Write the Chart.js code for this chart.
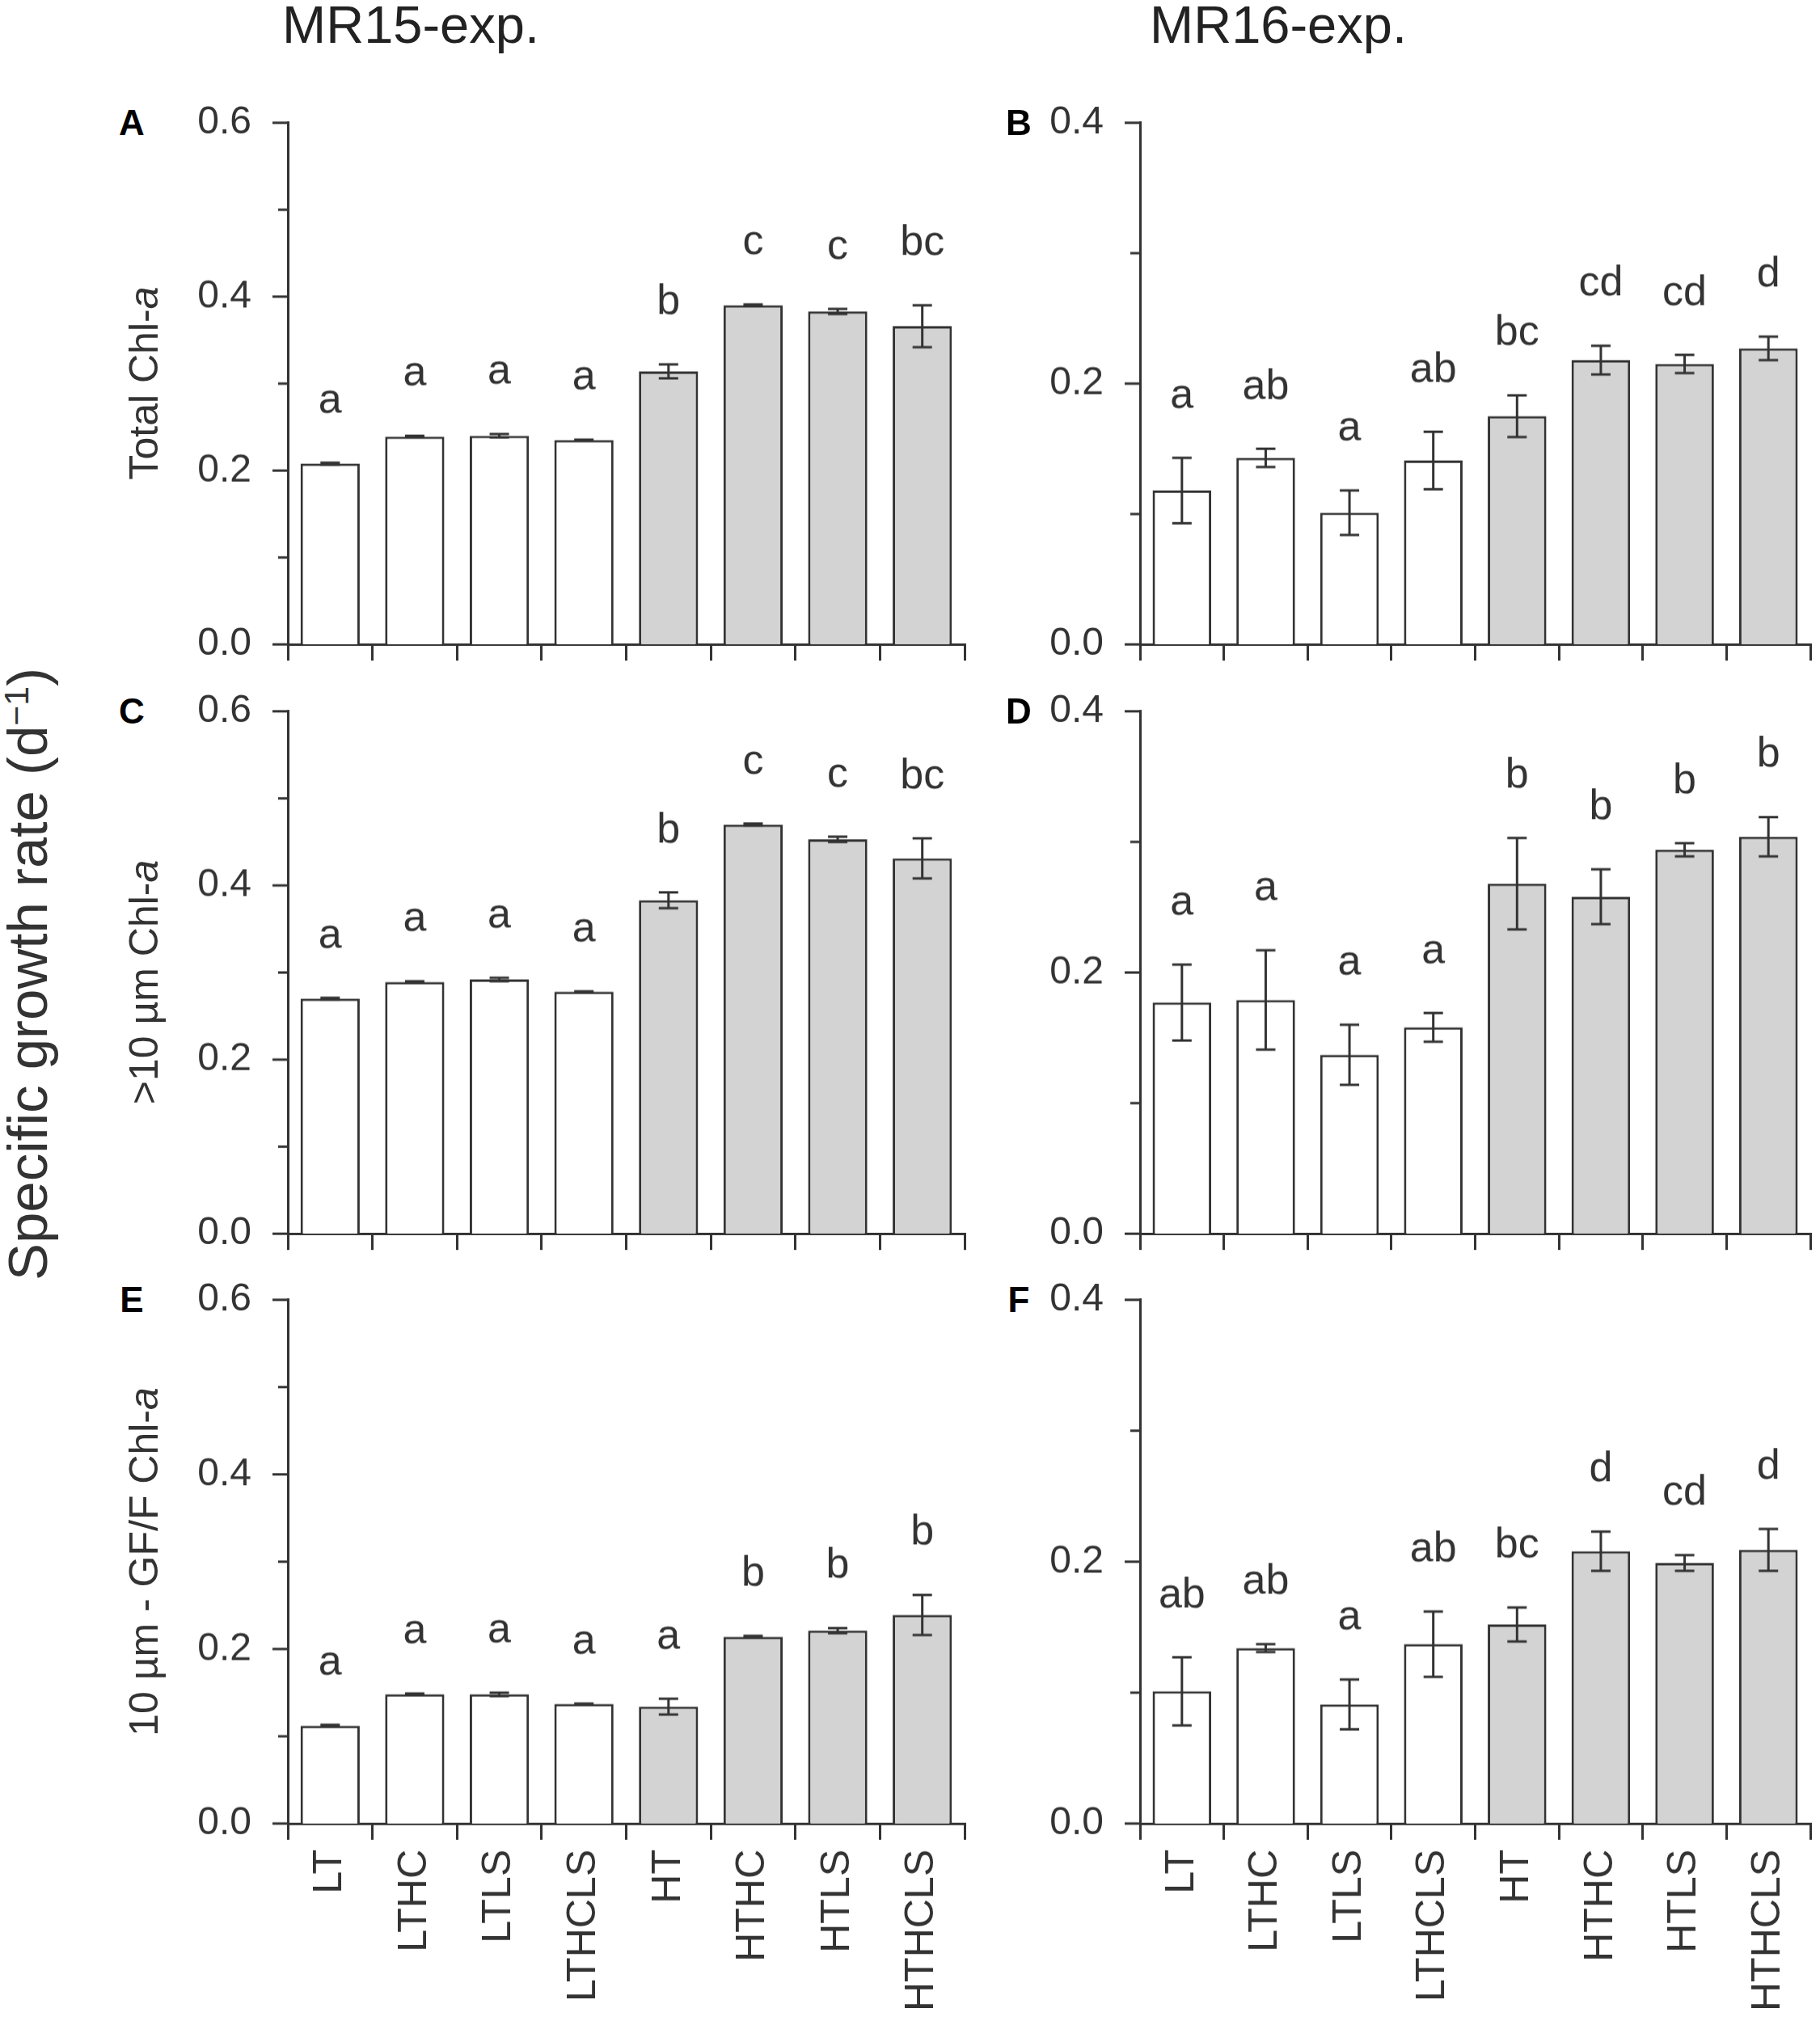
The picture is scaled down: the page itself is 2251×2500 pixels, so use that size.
<!DOCTYPE html>
<html>
<head>
<meta charset="utf-8">
<script src="https://cdn.jsdelivr.net/npm/chart.js@4.4.1/dist/chart.umd.min.js"></script>
<style>
  body { margin: 0; background: #fff; }
  #page { position: relative; width: 2251px; height: 2500px; overflow: hidden; background: #fff;
          font-family: "Liberation Sans", Arial, sans-serif; color: #333; }
  #page canvas { position: absolute; }
  .txt { position: absolute; line-height: 1; white-space: nowrap; }
  .rot { transform: translate(-50%, -50%) rotate(-90deg); }
  .ctr { transform: translate(-50%, -50%); }
  .head { font-size: 65px; transform: translateX(-50%); color: #222; }
  .letter { font-weight: bold; font-size: 44px; color: #000; }
  .ptitle { font-size: 50px; }
  sup { font-size: 0.62em; vertical-align: 0.55em; }
</style>
</head>
<body>
<div id="page">
  <div class="txt head" style="left:508px; top:-2px;">MR15-exp.</div>
  <div class="txt head" style="left:1581px; top:-2px;">MR16-exp.</div>
  <div class="txt rot" style="left:34px; top:1205px; font-size:69px;">Specific growth rate (d<sup>&minus;1</sup>)</div>
</div>
<script>
// treatments
const categories = ['LT', 'LTHC', 'LTLS', 'LTHCLS', 'HT', 'HTHC', 'HTLS', 'HTHCLS'];

// MR15 experiment, total Chl-a
const totalMR15 = [0.208, 0.239, 0.240, 0.235, 0.314, 0.390, 0.383, 0.366];
const totalMR15Err = [0.001, 0.001, 0.002, 0.0005, 0.008, 0.001, 0.003, 0.024];
const totalMR15Sig = ['a', 'a', 'a', 'a', 'b', 'c', 'c', 'bc'];
// MR16 experiment, total Chl-a
const totalMR16 = [0.118, 0.143, 0.101, 0.141, 0.175, 0.218, 0.215, 0.227];
const totalMR16Err = [0.025, 0.007, 0.017, 0.022, 0.016, 0.011, 0.007, 0.009];
const totalMR16Sig = ['a', 'ab', 'a', 'ab', 'bc', 'cd', 'cd', 'd'];

// >10 um fraction
const bigMR15 = [0.270, 0.289, 0.292, 0.278, 0.383, 0.470, 0.453, 0.431];
const bigMR15Err = [0.001, 0.001, 0.002, 0.0005, 0.009, 0.001, 0.003, 0.023];
const bigMR15Sig = ['a', 'a', 'a', 'a', 'b', 'c', 'c', 'bc'];
const bigMR16 = [0.177, 0.179, 0.137, 0.158, 0.268, 0.258, 0.294, 0.304];
const bigMR16Err = [0.029, 0.038, 0.023, 0.011, 0.035, 0.021, 0.005, 0.015];
const bigMR16Sig = ['a', 'a', 'a', 'a', 'b', 'b', 'b', 'b'];

// 10 um - GF/F fraction
const smallMR15 = [0.112, 0.148, 0.148, 0.137, 0.134, 0.214, 0.221, 0.239];
const smallMR15Err = [0.001, 0.001, 0.002, 0.0005, 0.009, 0.001, 0.003, 0.023];
const smallMR15Sig = ['a', 'a', 'a', 'a', 'a', 'b', 'b', 'b'];
const smallMR16 = [0.101, 0.134, 0.091, 0.137, 0.152, 0.208, 0.199, 0.209];
const smallMR16Err = [0.026, 0.003, 0.019, 0.025, 0.013, 0.015, 0.006, 0.016];
const smallMR16Sig = ['ab', 'ab', 'a', 'ab', 'bc', 'd', 'cd', 'd'];

const INK = '#333';
const FONT = '"Liberation Sans", Arial, sans-serif';
Chart.defaults.font.family = FONT;
Chart.defaults.color = INK;

// plot area edges on the page
const colLeft = [356, 1410], colRight = [1193, 2239];
const rowTop = [152, 880, 1608], rowBottom = [797, 1526, 2256];
const Y_AXIS_W = 136, PAD_TOP = 35, PAD_RIGHT = 40, PAD_BOTTOM = 10;

const panels = [
  { tag: 'A', row: 0, col: 0, max: 0.6, mean: totalMR15, err: totalMR15Err, sig: totalMR15Sig, title: 'Total Chl-<i>a</i>', titleY: 474 },
  { tag: 'B', row: 0, col: 1, max: 0.4, mean: totalMR16, err: totalMR16Err, sig: totalMR16Sig },
  { tag: 'C', row: 1, col: 0, max: 0.6, mean: bigMR15, err: bigMR15Err, sig: bigMR15Sig, title: '&gt;10 &micro;m Chl-<i>a</i>', titleY: 1215 },
  { tag: 'D', row: 1, col: 1, max: 0.4, mean: bigMR16, err: bigMR16Err, sig: bigMR16Sig },
  { tag: 'E', row: 2, col: 0, max: 0.6, mean: smallMR15, err: smallMR15Err, sig: smallMR15Sig, title: '10 &micro;m - GF/F Chl-<i>a</i>', titleY: 1932 },
  { tag: 'F', row: 2, col: 1, max: 0.4, mean: smallMR16, err: smallMR16Err, sig: smallMR16Sig }
];

const isMajor = v => Math.abs(v * 5 - Math.round(v * 5)) < 1e-6;

// y tick marks: long at labelled values, short in between
const yTicks = {
  id: 'yTicks',
  afterDraw(chart) {
    const y = chart.scales.y, ctx = chart.ctx, x0 = chart.chartArea.left;
    ctx.save();
    ctx.strokeStyle = INK;
    ctx.lineWidth = 3;
    y.ticks.forEach(t => {
      const py = y.getPixelForValue(t.value);
      ctx.beginPath();
      ctx.moveTo(x0 - (isMajor(t.value) ? 19 : 12), py);
      ctx.lineTo(x0, py);
      ctx.stroke();
    });
    ctx.restore();
  }
};

// error bars and significance letters
const errorBars = {
  id: 'errorBars',
  afterDatasetsDraw(chart, args, opts) {
    const ctx = chart.ctx, y = chart.scales.y;
    const vals = chart.data.datasets[0].data;
    ctx.save();
    ctx.strokeStyle = INK;
    ctx.fillStyle = INK;
    ctx.lineWidth = 3;
    ctx.font = '52px ' + FONT;
    ctx.textAlign = 'center';
    ctx.textBaseline = 'alphabetic';
    chart.getDatasetMeta(0).data.forEach((bar, i) => {
      const v = vals[i], e = opts.err[i];
      const top = y.getPixelForValue(v + e), bot = y.getPixelForValue(v - e);
      const cx = bar.x;
      ctx.beginPath();
      ctx.moveTo(cx, top); ctx.lineTo(cx, bot);
      ctx.moveTo(cx - 12, top); ctx.lineTo(cx + 12, top);
      ctx.moveTo(cx - 12, bot); ctx.lineTo(cx + 12, bot);
      ctx.stroke();
      ctx.fillText(opts.sig[i], cx, top - 62);
    });
    ctx.restore();
  }
};

const page = document.getElementById('page');

function addText(html, cls, left, top) {
  const d = document.createElement('div');
  d.className = 'txt ' + cls;
  d.style.left = left + 'px';
  d.style.top = top + 'px';
  d.innerHTML = html;
  page.appendChild(d);
}

function makeChart(p, left, top, w, h) {
  const bottomRow = p.row === 2;
  const xh = bottomRow ? 230 : 22;
  const cv = document.createElement('canvas');
  cv.width = w; cv.height = h;
  cv.style.left = left + 'px'; cv.style.top = top + 'px';
  cv.style.width = w + 'px'; cv.style.height = h + 'px';
  page.appendChild(cv);

  const chart = new Chart(cv, {
    type: 'bar',
    data: {
      labels: categories,
      datasets: [{
        data: p.mean,
        backgroundColor: categories.map(c => c.startsWith('L') ? '#ffffff' : '#d3d3d3'),
        borderColor: INK,
        borderWidth: 3,
        barPercentage: 0.7,
        categoryPercentage: 1.0
      }]
    },
    options: {
      responsive: false,
      maintainAspectRatio: false,
      animation: false,
      events: [],
      layout: { padding: { top: PAD_TOP, right: PAD_RIGHT, bottom: PAD_BOTTOM, left: 0 } },
      plugins: {
        legend: { display: false },
        tooltip: { enabled: false },
        errorBars: { err: p.err, sig: p.sig }
      },
      scales: {
        x: {
          offset: true,
          grid: { display: true, drawOnChartArea: false, drawTicks: true, tickLength: 20, color: INK, lineWidth: 3, offset: true },
          border: { display: true, color: INK, width: 3 },
          ticks: { display: bottomRow, autoSkip: false, minRotation: 90, maxRotation: 90, padding: 12, color: INK, font: { size: 50 } },
          afterFit(s) { s.height = xh; }
        },
        y: {
          min: 0,
          max: p.max,
          grid: { display: false },
          border: { display: true, color: INK, width: 3 },
          ticks: {
            stepSize: 0.1, padding: 37, color: INK, font: { size: 48 },
            callback: v => isMajor(v) ? v.toFixed(1) : ''
          },
          afterFit(s) { s.width = Y_AXIS_W; }
        }
      }
    },
    plugins: [yTicks, errorBars]
  });
  return { chart, cv };
}

panels.forEach(p => {
  const plotW = colRight[p.col] - colLeft[p.col];
  const plotH = rowBottom[p.row] - rowTop[p.row];
  const w = Y_AXIS_W + plotW + PAD_RIGHT;
  const h0 = 1000;
  // first pass: find how far the plot area sits inside the canvas
  const trial = makeChart(p, 0, 0, w, h0);
  const insetTop = trial.chart.chartArea.top;
  const insetBottom = h0 - trial.chart.chartArea.bottom;
  const insetLeft = trial.chart.chartArea.left;
  trial.chart.destroy();
  trial.cv.remove();
  // second pass: size and place the canvas so the plot area lands on its spot
  makeChart(p, colLeft[p.col] - insetLeft, rowTop[p.row] - insetTop, w, insetTop + plotH + insetBottom);

  addText(p.tag, 'letter ctr', p.col === 0 ? 163 : 1260, rowTop[p.row]);
  if (p.title) addText(p.title, 'ptitle rot', 178, p.titleY);
});
</script>
</body>
</html>
